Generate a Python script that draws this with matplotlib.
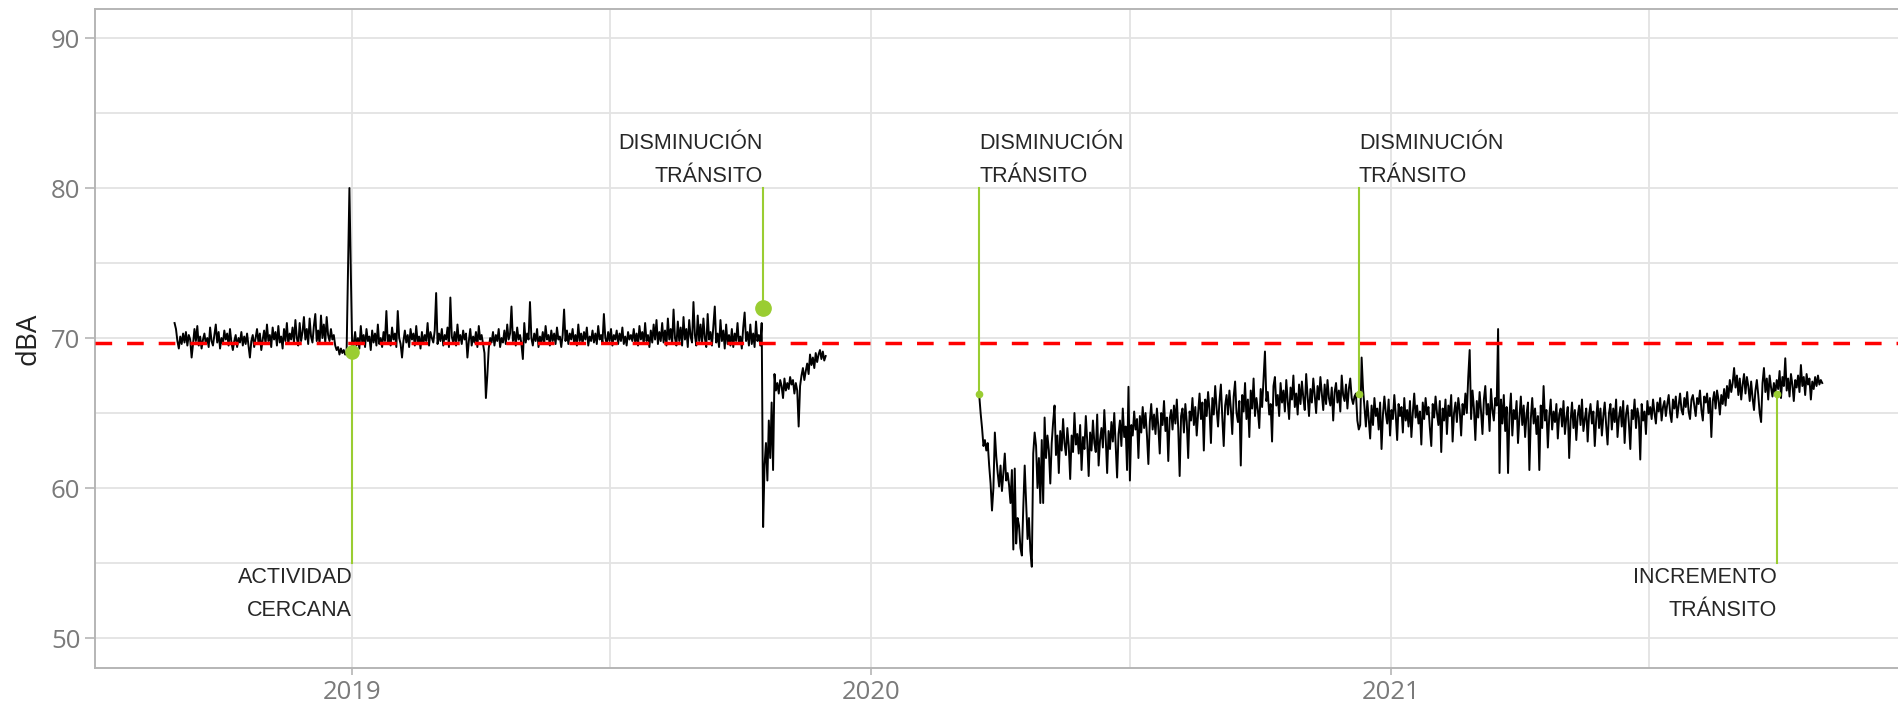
import numpy as np
import pandas as pd
import matplotlib
matplotlib.use('Agg')
import matplotlib.pyplot as plt
import matplotlib.dates as mdates

# niveles diarios (dBA), tramo 1: desde 2018-08-29
start_1 = '2018-08-29'
dba_1 = [
    71.0, 70.6, 69.8, 69.3, 70.1, 69.6, 70.3,
    69.7, 70.4, 69.5, 70.2, 69.9, 68.7, 69.6,
    70.6, 69.8, 70.8, 69.5, 70.1, 69.3, 69.9,
    70.3, 69.6, 70.0, 69.4, 70.7, 69.8, 69.5,
    70.2, 70.9, 69.7, 70.4, 69.3, 70.0, 69.6,
    70.5, 69.9, 70.3, 69.5, 70.6, 69.7, 69.2,
    69.8, 70.2, 69.4, 70.0, 69.7, 70.4, 69.5,
    70.1, 69.6, 70.3, 69.5, 68.7, 69.8, 70.2,
    69.4, 70.0, 70.6, 69.7, 70.3, 69.2, 69.9,
    70.5, 69.6, 70.9, 69.8, 70.2, 69.4, 70.7,
    69.9, 70.4, 69.5, 70.8, 69.7, 70.1, 69.3,
    70.6, 69.8, 71.0, 69.6, 70.3, 69.9, 70.7,
    69.7, 71.2, 70.0, 69.5, 71.0, 69.8, 70.4,
    71.4, 69.9, 70.6, 69.6, 71.3, 70.1, 69.7,
    70.8, 71.6, 69.8, 70.5, 69.6, 71.5, 70.0,
    70.9, 69.7, 71.4, 70.2, 69.8, 70.6, 69.9,
    70.2, 69.5, 69.2, 69.4, 68.9, 69.3, 69.0,
    69.2, 68.9, 69.0, 74.3, 80.0, 74.3, 69.1,
    69.6, 70.4, 69.5, 70.0, 69.3, 70.8, 69.7,
    70.2, 69.4, 70.6, 69.8, 70.1, 69.2, 70.5,
    69.7, 70.3, 69.5, 70.9, 69.6, 70.0, 69.4,
    70.4, 69.8, 71.8, 69.6, 70.2, 69.5, 70.7,
    69.9, 70.3, 69.4, 71.8, 70.0, 69.6, 68.7,
    69.8, 70.5, 69.7, 70.2, 69.4, 70.6, 69.9,
    70.3, 69.5, 70.8, 69.7, 70.1, 69.3, 70.4,
    69.6, 70.2, 69.8, 71.0, 69.5, 70.4, 70.0,
    69.7, 70.5, 73.0, 69.6, 70.3, 69.8, 70.6,
    69.5, 70.2, 69.9, 70.7, 69.4, 72.7, 70.1,
    69.7, 70.4, 69.5, 70.9, 69.8, 70.2, 69.6,
    70.5, 69.9, 70.3, 68.7, 69.8, 70.6, 69.5,
    70.1, 69.7, 70.4, 69.4, 70.8, 69.9, 70.2,
    69.6, 69.0, 66.0, 67.5, 69.3, 70.0, 69.7,
    70.4, 69.5, 70.2, 69.8, 70.6, 69.4, 70.0,
    69.7, 70.5, 69.6, 70.9, 69.9, 70.3, 72.1,
    69.8, 70.4, 69.5, 70.7, 69.9, 70.2, 69.6,
    68.6, 71.0, 69.7, 70.3, 69.9, 72.4, 70.0,
    69.5, 70.3, 69.8, 70.6, 69.4, 70.1, 69.7,
    70.4, 69.6, 70.8, 69.9, 70.2, 69.5, 70.5,
    69.8, 70.3, 69.6, 70.7, 69.9, 70.1, 69.4,
    70.2, 71.9, 69.8, 70.5, 69.6, 70.3, 69.9,
    70.6, 69.7, 70.2, 69.5, 70.9, 69.8, 70.3,
    69.6, 70.4, 69.9, 70.7, 69.5, 70.1, 69.8,
    70.5, 69.7, 70.3, 69.6, 70.8, 69.9, 70.2,
    69.7, 71.6, 70.0, 69.6, 70.4, 69.8, 70.6,
    69.5, 70.2, 69.9, 70.5, 69.6, 70.3, 69.8,
    70.7, 69.6, 70.1, 69.5, 70.4, 69.9, 70.2,
    69.8, 70.6, 69.7, 70.3, 69.5, 70.8, 69.9,
    70.4, 69.6, 71.0, 69.8, 70.2, 69.4, 70.5,
    69.7, 70.9, 69.9, 71.2, 69.6, 70.4, 69.8,
    71.0, 69.7, 70.5, 69.5, 71.3, 69.9, 70.6,
    69.6, 71.9, 70.0, 69.5, 71.1, 69.8, 70.7,
    69.5, 71.4, 69.9, 70.6, 69.4, 71.2, 70.1,
    69.7, 72.4, 70.2, 69.5, 71.5, 69.8, 70.9,
    69.6, 71.3, 70.0, 69.4, 71.6, 69.9, 70.4,
    69.5, 70.8, 72.1, 69.7, 70.3, 69.4, 71.2,
    69.8, 70.5, 69.3, 70.9, 69.6, 70.2, 69.5,
    70.6, 69.4, 70.3, 69.8, 71.0, 69.6, 70.1,
    69.3, 70.7, 71.7, 69.8, 70.4, 69.5, 70.9,
    69.6, 70.3, 69.4, 71.1, 69.8, 70.2, 69.5,
    71.0, 57.4, 61.5, 63.0, 60.5, 64.5, 62.0,
    65.7, 61.2, 67.6, 66.5, 67.0, 66.3, 67.2,
    66.8, 66.0, 67.3, 66.5, 67.0, 66.6, 67.4,
    66.9, 67.2, 66.3, 67.0, 66.5, 64.1, 66.8,
    67.5, 68.0, 67.2, 67.8, 68.3, 67.6, 68.9,
    68.2, 68.7, 68.0, 69.0, 68.4, 68.9, 69.2,
    68.6, 69.1, 68.5, 68.8,
]

# tramo 2: desde 2020-03-17
start_2 = '2020-03-17'
dba_2 = [
    66.2, 65.0, 64.0, 62.8, 63.2, 62.5, 63.0,
    61.5, 60.3, 58.5, 60.0, 63.7, 62.1, 61.0,
    60.1, 61.5, 59.8, 61.0, 62.3, 60.5, 61.0,
    60.2, 59.0, 61.2, 55.9, 61.3, 56.3, 58.0,
    57.5, 56.0, 55.5, 58.7, 61.5, 59.0, 56.6,
    58.0, 55.8, 54.75, 62.3, 63.7, 62.8, 60.0,
    62.0, 59.0, 63.2, 59.0, 64.7, 62.0, 63.5,
    62.5, 60.3, 63.0, 64.4, 65.5, 62.2, 63.5,
    61.0, 63.8, 62.5, 64.6, 63.0, 62.2, 64.0,
    62.8, 60.6, 63.5, 62.4, 65.0, 62.9, 63.6,
    62.3, 64.2, 61.2, 63.4, 62.6, 64.8, 63.1,
    60.8, 63.7, 62.5, 64.5, 63.0, 62.4, 64.9,
    61.5, 63.2, 64.0, 62.7, 65.2, 63.3, 61.0,
    63.8, 62.6, 64.4, 63.1, 65.0, 62.9, 60.7,
    63.6, 64.5, 62.8, 65.3, 63.4, 64.1, 61.2,
    66.75, 60.5, 64.2, 63.5, 65.1, 63.9, 64.6,
    62.0, 64.8, 63.7, 65.4, 64.0, 65.0, 63.5,
    61.6, 64.4, 65.6, 63.9, 64.9, 63.6, 65.3,
    64.1, 62.3, 65.0, 64.2, 65.8, 63.8, 64.7,
    61.8, 64.6, 65.2, 63.9, 65.5, 64.3, 65.9,
    64.0, 60.8, 64.8, 65.3, 63.7, 65.6, 64.4,
    62.0, 65.1, 64.5, 66.0, 64.2, 65.4, 63.5,
    65.0, 66.3, 64.6, 65.7, 62.5, 65.9, 64.8,
    66.4, 65.2, 63.0, 66.0, 64.9, 66.8, 65.3,
    64.1, 65.8, 66.9, 64.7, 62.8, 65.5, 66.2,
    64.9, 66.5, 65.3, 63.6, 66.1, 67.1, 65.0,
    64.4, 65.8, 61.5, 66.2, 65.1, 67.0, 64.6,
    65.9, 63.4, 66.5, 65.3, 67.3, 64.8, 66.0,
    65.2, 64.0, 66.6, 65.4, 67.2, 69.1, 65.8,
    66.4, 64.9, 65.6, 63.1, 66.8, 67.4, 65.5,
    66.2, 64.8, 67.0, 65.7, 66.5, 65.1, 67.2,
    65.8, 64.6, 66.7, 65.9, 67.5, 65.4, 66.3,
    64.9, 66.9, 65.6, 67.1, 66.0, 65.2, 67.6,
    66.1, 64.8, 66.6, 65.7, 67.3, 66.2, 65.0,
    66.8, 65.9, 67.4, 66.3, 65.2, 66.9, 65.6,
    67.2, 66.0, 65.5, 66.7, 64.5, 66.4, 67.0,
    65.7, 66.5, 65.1, 67.5, 66.2, 65.8, 66.9,
    65.3, 66.6, 67.3, 66.0, 65.6, 66.1, 66.3,
    64.5, 63.9, 64.2, 68.7, 66.6, 65.4, 64.1,
    65.8, 64.6, 63.3, 65.5, 64.2, 66.0, 64.8,
    65.3, 63.9, 65.7, 62.6, 64.9, 66.1, 65.0,
    64.3, 65.9, 63.5, 65.2, 64.6, 66.2, 64.9,
    63.2, 65.6, 64.8, 65.4, 63.7, 66.0, 64.5,
    65.2, 64.1, 65.8, 63.4, 65.0, 66.3, 64.7,
    65.5, 64.3, 65.1, 62.9, 65.7, 64.6, 66.0,
    64.9, 65.4, 64.0, 62.8, 65.6, 64.7, 66.1,
    65.0, 64.2, 65.8, 62.4, 65.3, 64.5, 65.9,
    63.6, 65.5, 64.8, 66.2, 63.1, 65.0, 65.7,
    64.4, 66.0, 65.2, 63.5, 65.6, 64.9, 66.3,
    65.0, 67.4, 69.2, 64.6, 66.5, 65.3, 63.2,
    65.8, 64.7, 66.4, 65.1, 63.6, 65.9, 66.8,
    64.9, 65.6, 63.8, 66.6, 65.2, 64.5, 66.0,
    65.5, 70.6, 61.0, 65.9, 64.3, 66.2, 63.8,
    65.4, 61.0, 64.9, 66.3, 63.5, 65.2, 64.6,
    65.8, 63.0, 64.7, 66.1, 64.2, 65.5, 63.4,
    64.9, 65.7, 61.2, 64.6, 66.0, 64.3, 65.3,
    63.6, 64.8, 61.2, 65.5, 64.0, 66.8, 64.5,
    65.2, 62.7, 64.8, 65.9, 63.9, 65.1, 64.4,
    65.6, 63.3, 64.9, 65.3, 64.1, 65.8, 63.6,
    64.7, 65.4, 62.0, 64.5, 65.7, 64.0, 65.2,
    63.2, 64.8, 65.5, 64.2, 65.9, 63.8, 64.6,
    65.3, 63.1, 64.9, 65.6, 64.3, 65.1, 62.8,
    64.6, 65.8, 64.0, 65.3, 63.5, 64.8, 65.7,
    64.2, 62.9, 65.0, 65.6, 63.9, 65.3, 64.4,
    65.9, 63.4, 64.7, 65.4, 64.1, 65.8, 63.0,
    64.9, 65.5, 64.3, 62.6, 65.2, 64.6, 65.9,
    64.0, 65.3, 64.7, 61.9, 65.6, 64.5, 65.1,
    63.6, 65.8, 64.9, 65.4, 64.6, 65.9, 65.0,
    64.3, 65.7, 65.1, 66.0, 64.5, 65.4, 65.8,
    64.8, 65.6, 66.2, 65.0, 64.4, 65.9, 65.3,
    66.1, 64.7, 65.5, 66.3, 65.2, 64.9, 66.0,
    65.4, 66.4, 65.1, 64.6, 65.9, 66.2, 65.5,
    64.8, 66.0, 65.6, 66.5, 65.2, 64.5, 66.1,
    65.7, 66.3, 65.0, 66.0, 63.4, 65.8, 66.4,
    65.3, 66.5, 65.9, 64.9, 66.2, 65.6, 66.6,
    65.5, 66.8, 66.0, 67.2, 66.4, 67.0, 68.0,
    66.7, 67.5, 66.2, 67.3, 65.9, 66.9, 67.6,
    66.3, 67.4, 66.8, 65.8, 67.1, 66.0, 65.2,
    66.5, 67.2, 66.2, 65.0, 64.4, 67.0, 68.0,
    66.4, 67.3, 65.9, 67.5, 66.7, 66.1, 67.0,
    66.3, 67.2, 66.6, 67.8, 66.0, 67.4, 66.8,
    68.65, 66.5, 67.3, 66.1, 67.6, 66.9, 65.8,
    67.2, 66.7, 67.5, 66.4, 68.2, 66.8, 67.4,
    66.2, 67.6, 66.9, 67.3, 65.9, 67.1, 66.6,
    67.4, 66.8, 67.5, 66.9, 67.2, 67.0,
]

ref_level = 69.65

# eventos anotados
ev_dates = ['2019-01-01', '2019-10-17', '2020-03-17', '2020-12-09', '2021-09-29']
ev_values = [69.1, 72.0, 66.3, 66.3, 66.3]
ev_ends = [55, 80, 80, 80, 55]
ev_labels = ['ACTIVIDAD\nCERCANA', 'DISMINUCIÓN\nTRÁNSITO', 'DISMINUCIÓN\nTRÁNSITO',
             'DISMINUCIÓN\nTRÁNSITO', 'INCREMENTO\nTRÁNSITO']
ev_align = ['right', 'right', 'left', 'left', 'right']
ev_msize = [9.5, 11, 4.5, 4.5, 4.5]

t1 = pd.date_range(start_1, periods=len(dba_1), freq='D')
t2 = pd.date_range(start_2, periods=len(dba_2), freq='D')

fig = plt.figure(figsize=(18.99, 7.04), dpi=100)
ax = fig.add_axes([0.05, 0.0511, 0.95, 0.936])

green = '#9acd32'
grid_c = '#e3e3e3'

ax.plot(t1, dba_1, color='black', lw=1.4, zorder=3)
ax.plot(t2, dba_2, color='black', lw=1.4, zorder=3)
ax.axhline(ref_level, color='red', lw=2.5, dashes=(4.8, 4.3), zorder=4)

for d, v, e, lab, ha, ms in zip(ev_dates, ev_values, ev_ends, ev_labels, ev_align, ev_msize):
    x = pd.Timestamp(d)
    ax.plot([x, x], [v, e], color=green, lw=1.5, zorder=5)
    ax.plot([x], [v], 'o', color=green, ms=ms, zorder=6)
    if e > v:
        ax.annotate(lab, (x, e), xytext=(0, 1), textcoords='offset points',
                    ha=ha, va='bottom', fontsize=15.5, color='#262626',
                    family='Liberation Sans', linespacing=1.75, multialignment=ha)
    else:
        ax.annotate(lab, (x, e), xytext=(0, -3), textcoords='offset points',
                    ha=ha, va='top', fontsize=15.5, color='#262626',
                    family='Liberation Sans', linespacing=1.75, multialignment=ha)

ax.set_xlim(pd.Timestamp('2018-07-04'), pd.Timestamp('2021-12-24'))
ax.set_ylim(48.0, 91.93)

ax.xaxis.set_major_locator(mdates.YearLocator())
ax.xaxis.set_major_formatter(mdates.DateFormatter('%Y'))
ax.xaxis.set_minor_locator(mdates.MonthLocator(bymonth=7))
ax.set_yticks([50, 60, 70, 80, 90])
ax.set_yticks([55, 65, 75, 85], minor=True)

ax.grid(True, which='both', color=grid_c, lw=1.3, zorder=0)
ax.set_axisbelow(True)

for s in ['left', 'bottom', 'top']:
    ax.spines[s].set_color('#b5b5b5')
    ax.spines[s].set_linewidth(1.4)
ax.spines['right'].set_visible(False)

ax.tick_params(axis='both', which='major', colors='#b5b5b5', labelcolor='#7a7a7a',
               labelsize=18.5, length=5, width=1.2)
ax.tick_params(axis='y', which='major', length=7)
ax.tick_params(axis='both', which='minor', length=0)
for lab in ax.get_xticklabels() + ax.get_yticklabels():
    lab.set_family('Open Sans')

ax.set_ylabel('dBA', fontsize=20, color='#222222', family='Open Sans', labelpad=6)

fig.savefig('out.png', dpi=100)
